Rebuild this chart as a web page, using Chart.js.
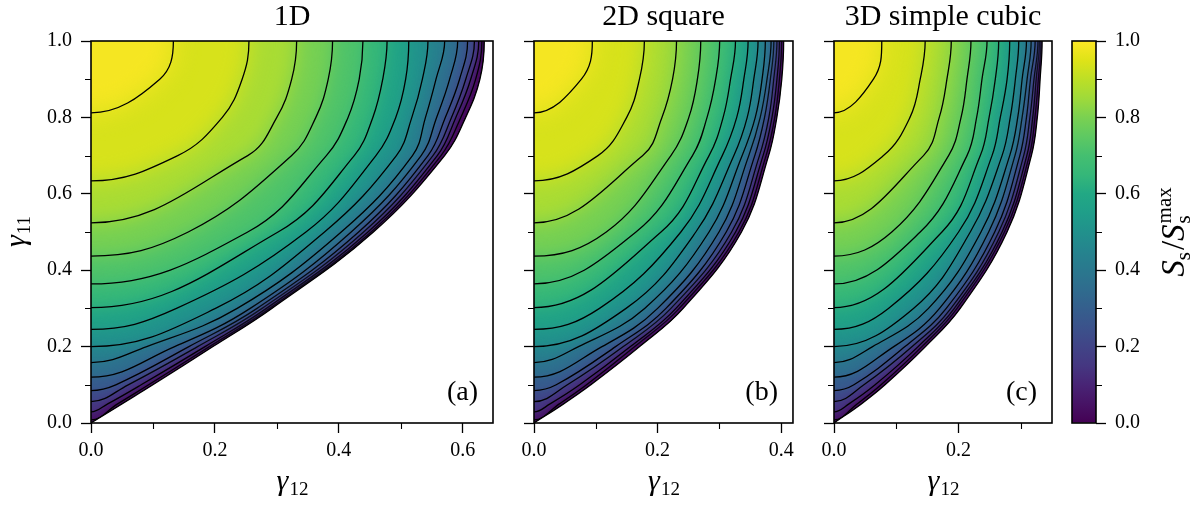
<!DOCTYPE html>
<html><head><meta charset="utf-8">
<script src="https://cdn.jsdelivr.net/npm/chart.js@4.4.0/dist/chart.umd.min.js"></script>
<style>
html,body{margin:0;padding:0;background:#fff;width:1203px;height:505px;overflow:hidden;}
canvas{position:absolute;top:0;}
</style></head><body>
<canvas id="p1" style="left:0px" width="500" height="505"></canvas>
<canvas id="p2" style="left:500px" width="300" height="505"></canvas>
<canvas id="p3" style="left:800px" width="258" height="505"></canvas>
<canvas id="cb" style="left:1058px" width="145" height="505"></canvas>
<script>
// ---------------- data ----------------
// contour levels (S_s / S_s^max) of the black lines, highest first
const contourLevels = [0.974,0.902,0.830,0.757,0.685,0.613,0.541,0.469,0.397,0.325,0.252,0.180,0.108,0.036];
// gamma11 where each contour meets gamma12 = 0 (last entry = S=0 boundary)
const leftIntercepts = [0.812,0.634,0.524,0.437,0.364,0.302,0.245,0.200,0.158,0.120,0.085,0.056,0.029,0.008,0.0];
// gamma11 rows at which contour crossings were read
const gamma11Rows = [0.05,0.1,0.2,0.3,0.5,0.7,0.8,0.9,1.0];
// gamma12 crossings per row: contours (highest level first) then boundary
const cross1D = [
  [null,null,null,null,null,null,null,null,null,null,null,null,0.027,0.043,0.050],
  [null,null,null,null,null,null,null,null,null,null,0.040,0.060,0.081,0.093,0.100],
  [null,null,null,null,null,null,null,null,0.090,0.135,0.158,0.172,0.184,0.191,0.197],
  [null,null,null,null,null,null,0.138,0.201,0.236,0.257,0.268,0.276,0.283,0.288,0.292],
  [null,null,null,0.157,0.253,0.302,0.347,0.377,0.404,0.420,0.432,0.440,0.447,0.452,0.456],
  [null,0.140,0.253,0.324,0.380,0.425,0.460,0.493,0.519,0.533,0.544,0.552,0.559,0.565,0.571],
  [null,0.212,0.300,0.363,0.415,0.455,0.492,0.518,0.540,0.558,0.572,0.582,0.589,0.597,0.605],
  [0.111,0.244,0.324,0.383,0.433,0.471,0.508,0.535,0.557,0.579,0.595,0.605,0.613,0.621,0.628],
  [0.133,0.255,0.332,0.390,0.439,0.478,0.513,0.544,0.571,0.592,0.608,0.619,0.626,0.631,0.635]
];
const cross2D = [
  [null,null,null,null,null,null,null,null,null,null,null,null,0.026,0.041,0.048],
  [null,null,null,null,null,null,null,null,null,null,0.036,0.054,0.074,0.085,0.092],
  [null,null,null,null,null,null,null,null,0.072,0.110,0.132,0.1445,0.156,0.163,0.171],
  [null,null,null,null,null,null,0.106,0.149,0.179,0.200,0.2135,0.2215,0.2296,0.2349,0.2414],
  [null,null,null,0.117,0.165,0.2055,0.2376,0.2618,0.2832,0.2993,0.311,0.3197,0.3261,0.3315,0.3358],
  [null,0.1035,0.176,0.2215,0.2564,0.2832,0.3046,0.3234,0.3368,0.3475,0.3572,0.3648,0.3706,0.3754,0.3797],
  [null,0.150,0.207,0.2505,0.280,0.306,0.328,0.345,0.358,0.366,0.373,0.380,0.385,0.3895,0.393],
  [0.0767,0.1706,0.2242,0.2644,0.2939,0.318,0.3395,0.3556,0.369,0.377,0.3824,0.3878,0.393,0.397,0.401],
  [0.0944,0.1786,0.2306,0.2698,0.3004,0.326,0.3464,0.3625,0.3743,0.3836,0.388,0.393,0.397,0.4006,0.404]
];
const cross3D = [
  [null,null,null,null,null,null,null,null,null,null,null,null,0.024,0.037,0.044],
  [null,null,null,null,null,null,null,null,null,null,0.032,0.048,0.066,0.0755,0.082],
  [null,null,null,null,null,null,null,null,0.062,0.096,0.114,0.1255,0.135,0.141,0.147],
  [null,null,null,null,null,null,0.0874,0.1276,0.1517,0.1694,0.1802,0.1877,0.1931,0.1974,0.2027],
  [null,null,null,0.0928,0.1384,0.1733,0.200,0.2188,0.236,0.2483,0.258,0.2644,0.2698,0.2735,0.2779],
  [null,0.0794,0.1437,0.184,0.2135,0.2349,0.2537,0.2698,0.2821,0.2905,0.2983,0.3045,0.3095,0.3135,0.317],
  [null,0.122,0.169,0.204,0.229,0.249,0.267,0.283,0.295,0.302,0.309,0.3145,0.319,0.3225,0.3265],
  [0.0633,0.1384,0.1813,0.2135,0.2376,0.259,0.2779,0.2912,0.302,0.310,0.3154,0.321,0.3245,0.328,0.331],
  [0.0767,0.1464,0.1883,0.2199,0.2457,0.2644,0.2821,0.2966,0.309,0.3165,0.3229,0.3274,0.3297,0.3319,0.3342]
];
const panelTitles = ['1D','2D square','3D simple cubic'];
const panelTags = ['(a)','(b)','(c)'];
const xMax = [0.649,0.419,0.350];
const xTicks = [[0,0.2,0.4,0.6],[0,0.2,0.4],[0,0.2]];
const xMinor = [[0.1,0.3,0.5],[0.1,0.3],[0.1,0.3]];
const yTicks = [0,0.2,0.4,0.6,0.8,1.0];
const yMinor = [0.1,0.3,0.5,0.7,0.9];
const cbTicks = [0,0.2,0.4,0.6,0.8,1.0];
const cbMinor = [0.1,0.3,0.5,0.7,0.9];
const cbRange = [0,1];

// ---------------- style ----------------
const VIRIDIS = ['#440154','#471365','#482475','#453781','#414487','#3b528b','#355f8d','#2f6c8e','#2a788e','#25848e','#21918c','#1f9e89','#22a884','#35b779','#44bf70','#5ec962','#7ad151','#9fda3a','#bddf26','#dfe318','#fde725'];
function hexRGB(h){return [parseInt(h.slice(1,3),16),parseInt(h.slice(3,5),16),parseInt(h.slice(5,7),16)];}
function viridis(t){
  t=Math.max(0,Math.min(1,t)); const n=VIRIDIS.length-1; const f=t*n;
  const i=Math.min(n-1,Math.floor(f)); const u=f-i;
  const a=hexRGB(VIRIDIS[i]), b=hexRGB(VIRIDIS[i+1]);
  return 'rgb('+a.map((v,k)=>Math.round(v+(b[k]-v)*u)).join(',')+')';
}
const FONT = "'Liberation Serif','DejaVu Serif',serif";
Chart.defaults.font.family = FONT;
Chart.defaults.color = '#000';
const TICK_FONT = 20;
// softening of the band edges (px), per contour, so the shading looks continuous
const edgeSoftness = [12,11,10,9,8,7,6,5,4,3,3,2,2,2];

function bandMid(j){
  if (j===0) return (1+contourLevels[0])/2;
  if (j===contourLevels.length) return contourLevels[j-1]/2;
  return (contourLevels[j-1]+contourLevels[j])/2;
}

function buildDatasets(cross){
  const ds=[]; const nB=leftIntercepts.length-1;
  for (let j=0;j<=nB;j++){
    const a=leftIntercepts[j];
    const body=[{x:0,y:a}];
    gamma11Rows.forEach((r,i)=>{const v=cross[i][j]; if(v!==null && r>a) body.push({x:v,y:r});});
    const first=body[1], below=body[body.length-2];
    // mirrored helper points outside the plot keep the tangents right at the edges
    const lead = (j===nB) ? {x:-first.x,y:-first.y} : {x:-first.x,y:first.y};
    const pts=[lead].concat(body,[{x:below.x,y:2-below.y},{x:-0.1,y:2-below.y}]);
    ds.push({data:pts,showLine:true,fill:'shape',backgroundColor:viridis(bandMid(j)),
      borderColor:'#000',borderWidth:1.3,pointRadius:0,tension:0.4});
  }
  return ds;
}

function drawSubLabel(ctx,main,sub,x,y,mainSize,subSize,subDrop){
  ctx.font='italic '+mainSize+'px '+FONT;
  const w1=ctx.measureText(main).width;
  ctx.font=subSize+'px '+FONT;
  const w2=ctx.measureText(sub).width;
  const x0=x-(w1+w2)/2;
  ctx.textAlign='left'; ctx.textBaseline='alphabetic';
  ctx.font='italic '+mainSize+'px '+FONT; ctx.fillText(main,x0,y);
  ctx.font=subSize+'px '+FONT; ctx.fillText(sub,x0+w1+1,y+subDrop);
}

function minorTicks(ctx,chart,axis,vals,len,side){
  const s=chart.scales[axis]; const a=chart.chartArea;
  ctx.beginPath();
  vals.forEach(v=>{
    const p=Math.round(s.getPixelForValue(v))+0.5;
    if(axis==='x'){ctx.moveTo(p,a.bottom);ctx.lineTo(p,a.bottom+len);}
    else if(side==='left'){ctx.moveTo(a.left,p);ctx.lineTo(a.left-len,p);}
    else {ctx.moveTo(a.right,p);ctx.lineTo(a.right+len,p);}
  });
  ctx.lineWidth=1.1; ctx.strokeStyle='#000'; ctx.stroke();
}

function boundaryPath(chart){
  const base=chart.getDatasetMeta(chart.data.datasets.length-1).dataset;
  const p=new Path2D(); base.path(p); return p;
}

const panelDeco={
  id:'panelDeco',
  beforeDatasetsDraw(chart){
    const a=chart.chartArea,c=chart.ctx;
    c.save();c.beginPath();c.rect(a.left,a.top,a.right-a.left,a.bottom-a.top);c.clip();
    const p=boundaryPath(chart); p.closePath(); c.clip(p);
    c.filter='none';
  },
  beforeDatasetDraw(chart){chart.ctx.filter='none';},
  afterDatasetDraw(chart,args){
    const next=args.index-1;
    chart.ctx.filter = next>=0 ? 'blur('+edgeSoftness[next]+'px)' : 'none';
  },
  afterDatasetsDraw(chart){
    const a=chart.chartArea,c=chart.ctx;
    c.filter='none';c.restore();
    c.save();c.beginPath();c.rect(a.left,a.top,a.right-a.left,a.bottom-a.top);c.clip();
    c.lineWidth=1.2;c.strokeStyle='#000';c.stroke(boundaryPath(chart));c.restore();
  },
  afterDraw(chart,args,o){
    const a=chart.chartArea,c=chart.ctx;
    c.save();
    c.lineWidth=1.6;c.strokeStyle='#000';c.strokeRect(a.left,a.top,a.right-a.left,a.bottom-a.top);
    minorTicks(c,chart,'x',o.xMinor,6,'bottom');
    minorTicks(c,chart,'y',yMinor,6,'left');
    const cx=(a.left+a.right)/2;
    c.fillStyle='#000';c.textAlign='center';c.textBaseline='alphabetic';
    c.font='30px '+FONT;c.fillText(o.title,cx,25);
    c.textAlign='right';c.font='28px '+FONT;c.fillText(o.tag,a.right-15,400);
    drawSubLabel(c,'\u03b3','12',cx,490,30,19,5);
    if(o.yLabel){
      c.save();c.translate(25,(a.top+a.bottom)/2);c.rotate(-Math.PI/2);
      drawSubLabel(c,'\u03b3','11',0,0,30,19,5);c.restore();
    }
    c.restore();
  }
};

function makePanel(id,k,crossTable,yWidth,padRight){
  const scaleCommon={
    grid:{drawOnChartArea:false,drawTicks:true,tickLength:10,tickWidth:1.3,tickColor:'#000'},
    border:{display:false}
  };
  return new Chart(document.getElementById(id),{
    type:'scatter',
    data:{datasets:buildDatasets(crossTable)},
    plugins:[panelDeco],
    options:{
      responsive:false,animation:false,devicePixelRatio:1,
      layout:{padding:{top:41,right:padRight,left:0,bottom:0}},
      elements:{line:{capBezierPoints:false}},
      plugins:{legend:{display:false},tooltip:{enabled:false},
        panelDeco:{title:panelTitles[k],tag:panelTags[k],xMinor:xMinor[k],yLabel:k===0}},
      scales:{
        x:Object.assign({type:'linear',min:0,max:xMax[k],
          afterBuildTicks:s=>{s.ticks=xTicks[k].map(v=>({value:v}));},
          afterFit:s=>{s.height=82;},
          ticks:{callback:v=>v.toFixed(1),font:{size:TICK_FONT},color:'#000',padding:6,maxRotation:0,autoSkip:false}},scaleCommon),
        y:Object.assign({type:'linear',min:0,max:1,
          afterBuildTicks:s=>{s.ticks=yTicks.map(v=>({value:v}));},
          afterFit:s=>{s.width=yWidth;},
          ticks:{callback:v=>k===0?v.toFixed(1):'',font:{size:TICK_FONT},color:'#000',padding:9,autoSkip:false}},scaleCommon)
      }
    }
  });
}
makePanel('p1',0,cross1D,91,7);
makePanel('p2',1,cross2D,34,6);
makePanel('p3',2,cross3D,34,6);

// ---------------- colorbar ----------------
const cbDeco={
  id:'cbDeco',
  afterDraw(chart){
    const a=chart.chartArea,c=chart.ctx;
    c.save();
    c.lineWidth=1.6;c.strokeStyle='#000';c.strokeRect(a.left,a.top,a.right-a.left,a.bottom-a.top);
    minorTicks(c,chart,'y',cbMinor,6,'right');
    c.fillStyle='#000';
    c.translate(1184-1058,(a.top+a.bottom)/2);c.rotate(-Math.PI/2);
    const big=33, small=21;
    c.textBaseline='alphabetic';c.textAlign='left';
    c.font='italic '+big+'px '+FONT; const wS=c.measureText('S').width;
    c.font=small+'px '+FONT; const ws=c.measureText('s').width;
    c.font=big+'px '+FONT; const wsl=c.measureText('/').width;
    c.font=small+'px '+FONT; const wmax=c.measureText('max').width;
    const total=wS+ws+wsl+wS+Math.max(ws,wmax)+3;
    let x=-total/2;
    c.font='italic '+big+'px '+FONT;c.fillText('S',x,0);x+=wS;
    c.font=small+'px '+FONT;c.fillText('s',x,6);x+=ws+2;
    c.font=big+'px '+FONT;c.fillText('/',x,0);x+=wsl;
    c.font='italic '+big+'px '+FONT;c.fillText('S',x,0);x+=wS+1;
    c.font=small+'px '+FONT;c.fillText('s',x,6);
    c.fillText('max',x,-13);
    c.restore();
  }
};
new Chart(document.getElementById('cb'),{
  type:'bar',
  data:{labels:['S'],datasets:[{data:[cbRange],barPercentage:1,categoryPercentage:1,borderWidth:0,
    backgroundColor:(ctx)=>{const ch=ctx.chart;const a=ch.chartArea;if(!a)return '#888';
      const g=ch.ctx.createLinearGradient(0,a.bottom,0,a.top);
      VIRIDIS.forEach((col,i)=>g.addColorStop(i/(VIRIDIS.length-1),col));return g;}}]},
  plugins:[cbDeco],
  options:{
    responsive:false,animation:false,devicePixelRatio:1,
    layout:{padding:{top:41,left:14,right:0,bottom:82}},
    plugins:{legend:{display:false},tooltip:{enabled:false}},
    scales:{
      x:{display:false},
      y:{position:'right',min:0,max:1,
        afterBuildTicks:s=>{s.ticks=cbTicks.map(v=>({value:v}));},
        afterFit:s=>{s.width=107;},
        ticks:{callback:v=>v.toFixed(1),font:{size:TICK_FONT},color:'#000',padding:9,autoSkip:false},
        grid:{drawOnChartArea:false,drawTicks:true,tickLength:10,tickWidth:1.3,tickColor:'#000'},
        border:{display:false}}
    }
  }
});
</script>
</body></html>
